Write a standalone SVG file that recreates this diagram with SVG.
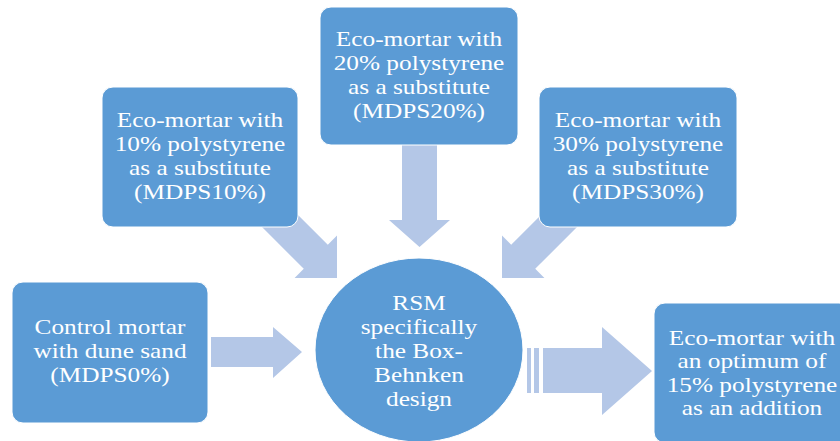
<svg xmlns="http://www.w3.org/2000/svg" width="840" height="441" viewBox="0 0 840 441">
  <style>
    .box { fill: #5b9bd5; stroke: #ffffff; stroke-width: 1; }
    .arrow { fill: #b4c7e7; }
    text { font-size: 22px; fill: #ffffff; text-anchor: middle; }
  </style>
  <defs>
    <!-- block arrow pointing along +x, tip at origin -->
    <polygon id="diagArrow" points="0,0 -30,-30 -30,-17 -110,-17 -110,17 -30,17 -30,30"/>
  </defs>

  <rect width="840" height="441" fill="#ffffff"/>

  <g id="connectors">
    <use href="#diagArrow" class="arrow" transform="translate(337,278) rotate(45)"/>
    <polygon class="arrow" points="402,140 437,140 437,220 450,220 419.5,247 389,220 402,220"/>
    <use href="#diagArrow" class="arrow" transform="translate(502,278) rotate(135)"/>
    <polygon class="arrow" points="211,337 273,337 273,327 302,352 273,378 273,367 211,367"/>
    <g class="arrow">
      <rect x="527" y="348" width="4" height="45"/>
      <rect x="534" y="348" width="5" height="45"/>
      <polygon points="543,348 602,348 602,327 652,371 602,415 602,393 543,393"/>
    </g>
  </g>

  <g font-family="'Liberation Serif', 'Times New Roman', 'DejaVu Serif', serif">
  <g id="node-mdps10">
    <rect class="box" x="102" y="87" width="196" height="140" rx="11"/>
    <g transform="translate(200,0) scale(1.15,1)">
      <text x="0" y="127">Eco-mortar with</text>
      <text x="0" y="151">10% polystyrene</text>
      <text x="0" y="175">as a substitute</text>
      <text x="0" y="199">(MDPS10%)</text>
    </g>
  </g>

  <g id="node-mdps20">
    <rect class="box" x="320" y="7" width="198" height="138" rx="11"/>
    <g transform="translate(419,0) scale(1.15,1)">
      <text x="0" y="46">Eco-mortar with</text>
      <text x="0" y="70">20% polystyrene</text>
      <text x="0" y="94">as a substitute</text>
      <text x="0" y="118">(MDPS20%)</text>
    </g>
  </g>

  <g id="node-mdps30">
    <rect class="box" x="539" y="87" width="198" height="140" rx="11"/>
    <g transform="translate(638,0) scale(1.15,1)">
      <text x="0" y="127">Eco-mortar with</text>
      <text x="0" y="151">30% polystyrene</text>
      <text x="0" y="175">as a substitute</text>
      <text x="0" y="199">(MDPS30%)</text>
    </g>
  </g>

  <g id="node-mdps0">
    <rect class="box" x="12" y="282" width="196" height="141" rx="11"/>
    <g transform="translate(110,0) scale(1.15,1)">
      <text x="0" y="334">Control mortar</text>
      <text x="0" y="358">with dune sand</text>
      <text x="0" y="382">(MDPS0%)</text>
    </g>
  </g>

  <g id="node-rsm">
    <ellipse class="box" cx="419" cy="350" rx="104" ry="92"/>
    <g transform="translate(419,0) scale(1.15,1)">
      <text x="0" y="310">RSM</text>
      <text x="0" y="334">specifically</text>
      <text x="0" y="358">the Box-</text>
      <text x="0" y="382">Behnken</text>
      <text x="0" y="406">design</text>
    </g>
  </g>

  <g id="node-optimum">
    <rect class="box" x="654" y="303" width="196" height="140" rx="11"/>
    <g transform="translate(752,0) scale(1.15,1)">
      <text x="0" y="345">Eco-mortar with</text>
      <text x="0" y="368">an optimum of</text>
      <text x="0" y="392">15% polystyrene</text>
      <text x="0" y="415">as an addition</text>
    </g>
  </g>
  </g>
</svg>
